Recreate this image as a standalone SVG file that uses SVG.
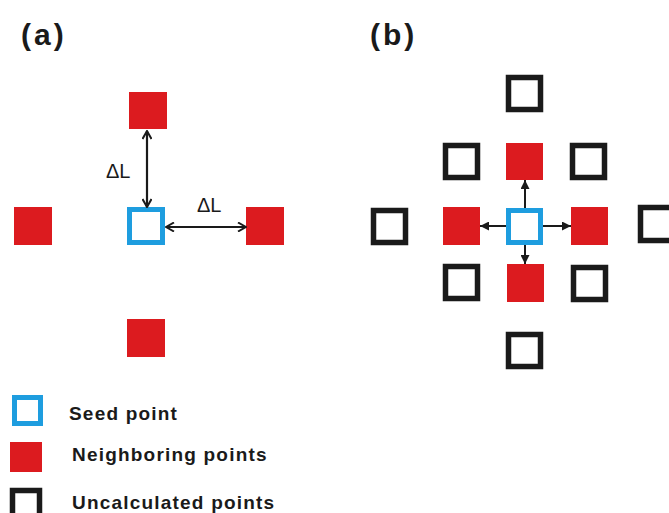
<svg xmlns="http://www.w3.org/2000/svg" width="669" height="513" viewBox="0 0 669 513">
  <defs>
    <style>
      .red { fill: #dc1b1f; }
      .seed { fill: #ffffff; stroke: #1e9ddf; stroke-width: 5; }
      .unc { fill: #ffffff; stroke: #1a1a1a; stroke-width: 5.5; }
      .panel { font-family: "Liberation Sans", Arial, sans-serif; font-weight: bold; font-size: 30px; fill: #1a1a1a; letter-spacing: 3px; }
      .dl { font-family: "Liberation Sans", Arial, sans-serif; font-size: 20px; fill: #1a1a1a; }
      .legend { font-family: "Liberation Sans", Arial, sans-serif; font-weight: bold; font-size: 19px; fill: #1a1a1a; letter-spacing: 1.2px; }
      .dbl { stroke: #1a1a1a; stroke-width: 2.2; fill: none; }
      .arr { stroke: #1a1a1a; stroke-width: 2; fill: none; }
    </style>
    <marker id="vhead" viewBox="0 0 10 10" refX="9" refY="5" markerWidth="10" markerHeight="10" markerUnits="userSpaceOnUse" orient="auto-start-reverse">
      <path d="M1,0.5 L9,5 L1,9.5" fill="none" stroke="#1a1a1a" stroke-width="2"/>
    </marker>
    <marker id="thead" viewBox="0 0 10 10" refX="10" refY="5" markerWidth="10" markerHeight="9" markerUnits="userSpaceOnUse" orient="auto">
      <path d="M0,0 L10,5 L0,10 Z" fill="#1a1a1a"/>
    </marker>
  </defs>

  <rect width="669" height="513" fill="#ffffff"/>

  <!-- panel labels -->
  <text class="panel" x="21" y="45">(a)</text>
  <text class="panel" x="370" y="45">(b)</text>

  <!-- panel (a): seed point with its four neighbours -->
  <g id="a-seed"><rect class="seed" x="129.5" y="209.5" width="33" height="33"/></g>
  <g id="a-top"><rect class="red" x="129" y="92" width="38" height="37"/></g>
  <g id="a-left"><rect class="red" x="14" y="207" width="38" height="38"/></g>
  <g id="a-right"><rect class="red" x="246" y="207" width="38" height="38"/></g>
  <g id="a-bottom"><rect class="red" x="127" y="319" width="38" height="38"/></g>

  <g id="a-connectors">
    <line class="dbl" x1="147" y1="131" x2="147" y2="207" marker-start="url(#vhead)" marker-end="url(#vhead)"/>
    <line class="dbl" x1="166" y1="227" x2="246" y2="227" marker-start="url(#vhead)" marker-end="url(#vhead)"/>
    <text class="dl" x="106" y="178">ΔL</text>
    <text class="dl" x="197" y="212">ΔL</text>
  </g>

  <!-- panel (b): seed, four neighbours, outer ring of uncalculated points -->
  <g id="b-seed"><rect class="seed" x="508.5" y="210.5" width="32" height="32"/></g>
  <g id="b-n-top"><rect class="red" x="506" y="143" width="37" height="37"/></g>
  <g id="b-n-left"><rect class="red" x="443" y="207" width="37" height="38"/></g>
  <g id="b-n-right"><rect class="red" x="571" y="207" width="37" height="38"/></g>
  <g id="b-n-bottom"><rect class="red" x="507" y="264" width="37" height="38"/></g>

  <g id="b-u-top"><rect class="unc" x="508.5" y="77.5" width="32" height="32"/></g>
  <g id="b-u-tl"><rect class="unc" x="445.5" y="145.5" width="32" height="32"/></g>
  <g id="b-u-tr"><rect class="unc" x="572.5" y="145.5" width="32" height="32"/></g>
  <g id="b-u-left"><rect class="unc" x="373.5" y="210.5" width="32" height="32"/></g>
  <g id="b-u-right"><rect class="unc" x="640.5" y="207.5" width="32" height="33"/></g>
  <g id="b-u-bl"><rect class="unc" x="445.5" y="266.5" width="32" height="32"/></g>
  <g id="b-u-br"><rect class="unc" x="573.5" y="267.5" width="32" height="32"/></g>
  <g id="b-u-bottom"><rect class="unc" x="508.5" y="334.5" width="32" height="32"/></g>

  <g id="b-connectors">
    <line class="arr" x1="525" y1="208" x2="525" y2="180" marker-end="url(#thead)"/>
    <line class="arr" x1="506" y1="226" x2="480" y2="226" marker-end="url(#thead)"/>
    <line class="arr" x1="543" y1="226" x2="571" y2="226" marker-end="url(#thead)"/>
    <line class="arr" x1="525" y1="245" x2="525" y2="264" marker-end="url(#thead)"/>
  </g>

  <!-- legend -->
  <g id="legend-seed">
    <rect class="seed" x="14.5" y="397.5" width="26" height="26"/>
    <text class="legend" x="69" y="420">Seed point</text>
  </g>
  <g id="legend-neighbor">
    <rect class="red" x="10" y="442" width="32" height="30"/>
    <text class="legend" x="72" y="461">Neighboring points</text>
  </g>
  <g id="legend-uncalculated">
    <rect class="unc" x="12.5" y="490.5" width="27" height="27"/>
    <text class="legend" x="72" y="509">Uncalculated points</text>
  </g>
</svg>
